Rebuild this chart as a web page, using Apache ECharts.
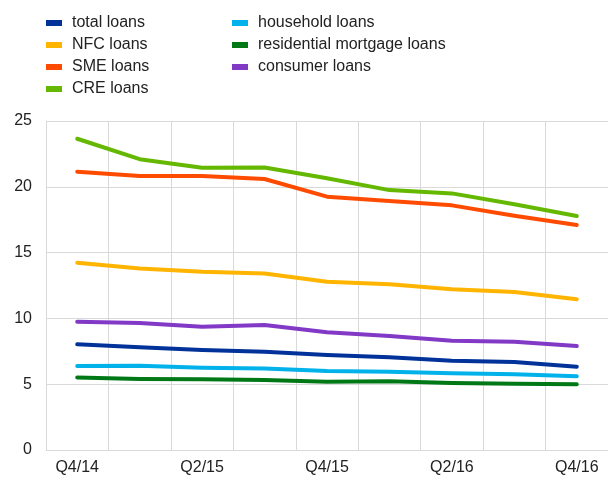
<!DOCTYPE html>
<html>
	<head>
		<meta charset="UTF-8">
		<title></title>
		<script src="https://cdn.jsdelivr.net/npm/echarts@6/dist/echarts.min.js" type="text/javascript" charset="utf-8"></script>
	</head>
	<body style="margin:0;">
		<div id="chart" style="height: 477px;width: 608px;"></div>
		<script type="text/javascript">
			var quarters = ['Q4/14', 'Q1/15', 'Q2/15', 'Q3/15', 'Q4/15', 'Q1/16', 'Q2/16', 'Q3/16', 'Q4/16'];
			var totalLoans = [8.03, 7.8, 7.6, 7.47, 7.22, 7.04, 6.79, 6.69, 6.33];
			var nfcLoans = [14.23, 13.8, 13.55, 13.42, 12.79, 12.59, 12.21, 12.0, 11.45];
			var smeLoans = [21.15, 20.82, 20.82, 20.59, 19.25, 18.92, 18.59, 17.8, 17.1];
			var creLoans = [23.65, 22.1, 21.45, 21.47, 20.65, 19.75, 19.5, 18.67, 17.78];
			var householdLoans = [6.38, 6.4, 6.25, 6.2, 6.0, 5.95, 5.83, 5.75, 5.6];
			var mortgageLoans = [5.5, 5.4, 5.37, 5.32, 5.19, 5.22, 5.09, 5.04, 5.0];
			var consumerLoans = [9.75, 9.65, 9.37, 9.5, 8.94, 8.66, 8.31, 8.23, 7.9];
			var yTicks = [0, 5, 10, 15, 20, 25];

			var seriesList = [
				{name: 'total loans', data: totalLoans, color: '#003299'},
				{name: 'NFC loans', data: nfcLoans, color: '#ffb400'},
				{name: 'SME loans', data: smeLoans, color: '#ff4b00'},
				{name: 'CRE loans', data: creLoans, color: '#65b800'},
				{name: 'household loans', data: householdLoans, color: '#00b1ea'},
				{name: 'residential mortgage loans', data: mortgageLoans, color: '#007816'},
				{name: 'consumer loans', data: consumerLoans, color: '#8139c6'}
			];
			var series = seriesList.map(function (s) {
				return {
					name: s.name,
					type: 'line',
					data: s.data,
					symbol: 'none',
					color: s.color,
					lineStyle: {width: 4, color: s.color, cap: 'round', join: 'round'},
					animation: false
				};
			});

			var legendText = {fontSize: 16, color: '#222', fontFamily: 'Liberation Sans', lineHeight: 16, padding: [0, 0, 0, 5]};
			var chart = echarts.init(document.getElementById('chart'));
			var option = {
				textStyle: {fontFamily: 'Liberation Sans'},
				legend: [
					{
						orient: 'vertical', left: 46, top: 15, padding: 0,
						itemWidth: 16, itemHeight: 6, itemGap: 6,
						icon: 'rect',
						textStyle: legendText,
						data: ['total loans', 'NFC loans', 'SME loans', 'CRE loans']
					},
					{
						orient: 'vertical', left: 232, top: 15, padding: 0,
						itemWidth: 16, itemHeight: 6, itemGap: 6,
						icon: 'rect',
						textStyle: legendText,
						data: ['household loans', 'residential mortgage loans', 'consumer loans']
					}
				],
				grid: {left: 46, top: 121, bottom: 27, right: -9.5},
				xAxis: {
					type: 'category',
					data: quarters,
					boundaryGap: true,
					axisLine: {lineStyle: {color: '#d9d9d9'}},
					axisTick: {show: false},
					axisLabel: {interval: 1, fontSize: 16, color: '#222', margin: 10},
					splitLine: {show: true, interval: 0, lineStyle: {color: '#d9d9d9'}}
				},
				yAxis: {
					type: 'value',
					min: yTicks[0],
					max: yTicks[yTicks.length - 1],
					interval: 5,
					axisLine: {show: true, lineStyle: {color: '#d9d9d9'}},
					axisTick: {show: false},
					axisLabel: {fontSize: 16, color: '#222', margin: 14},
					splitLine: {lineStyle: {color: '#d9d9d9'}}
				},
				series: series
			};
			chart.setOption(option, true);
		</script>
	</body>
</html>
